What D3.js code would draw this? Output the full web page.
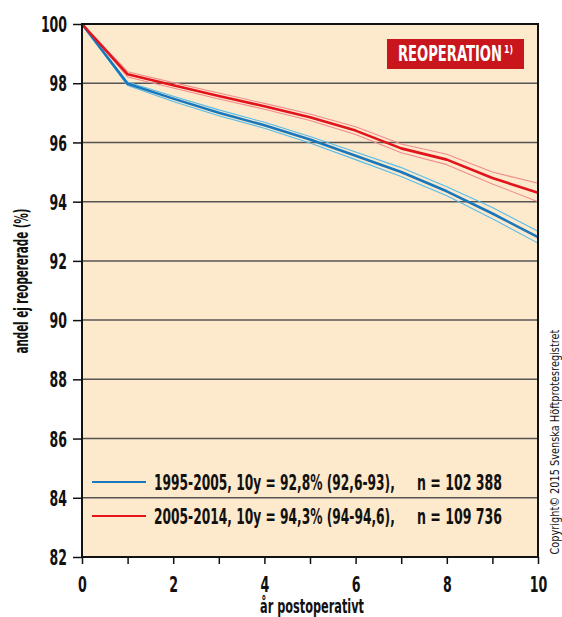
<!DOCTYPE html>
<html><head><meta charset="utf-8">
<script src="https://cdn.jsdelivr.net/npm/d3@7"></script>
<style>
body{margin:0;background:#fff;}
svg text{font-family:"DejaVu Sans Condensed","DejaVu Sans",sans-serif;font-stretch:condensed;font-weight:bold;fill:#111;}
</style></head>
<body><svg id="c" width="562" height="617"></svg>
<script>
const years = [0,1,2,3,4,5,6,7,8,9,10];
const blue   = [100, 97.98, 97.48, 97.0, 96.58, 96.1, 95.55, 95.0, 94.35, 93.6, 92.8];
const blueLo = [100, 97.92, 97.38, 96.9, 96.48, 95.98, 95.42, 94.85, 94.2, 93.42, 92.6];
const blueHi = [100, 98.04, 97.56, 97.1, 96.68, 96.2, 95.68, 95.15, 94.5, 93.8, 93.0];
const red    = [100, 98.3, 97.93, 97.57, 97.22, 96.85, 96.4, 95.8, 95.42, 94.8, 94.3];
const redLo  = [100, 98.21, 97.84, 97.47, 97.12, 96.74, 96.27, 95.65, 95.25, 94.6, 94.0];
const redHi  = [100, 98.39, 98.02, 97.67, 97.32, 96.96, 96.53, 95.95, 95.6, 95.0, 94.62];
const yTicks = [82,84,86,88,90,92,94,96,98,100];
const xLabels = [0,2,4,6,8,10];
const legendLabels = ["1995-2005, 10y = 92,8% (92,6-93),", "2005-2014, 10y = 94,3% (94-94,6),"];
const legendN = ["n = 102 388", "n = 109 736"];

const svg = d3.select("#c");
const L=82, R=538, T=24, B=557;
const x = d3.scaleLinear().domain([0,10]).range([L,R]);
const y = d3.scaleLinear().domain([82,100]).range([B,T]);

// place text at (px,py), squeezed horizontally to a target width, optional rotation
function fitText(str, px, py, width, size, opts={}) {
  const g = svg.append("g");
  const t = g.append("text").style("font-size", size+"px").text(str);
  if (opts.weight) t.style("font-weight", opts.weight);
  if (opts.fill) t.style("fill", opts.fill);
  if (opts.dy) t.attr("dy", opts.dy);
  const w = t.node().getComputedTextLength();
  const sx = width / w;
  let ox = 0;
  if (opts.anchor === "middle") ox = -width/2;
  t.attr("x", ox / sx);
  g.attr("transform", `translate(${px},${py})` + (opts.rotate ? ` rotate(${opts.rotate})` : "") + ` scale(${sx},1)`);
  return g;
}

svg.append("rect").attr("x",L).attr("y",T).attr("width",R-L).attr("height",B-T).attr("fill","#fde9cb");

// gridlines
svg.append("g").selectAll("line").data(yTicks.filter(d=>d>82&&d<100)).join("line")
  .attr("x1",L).attr("x2",R).attr("y1",d=>y(d)).attr("y2",d=>y(d))
  .attr("stroke","#555").attr("stroke-width",1.5);

// lines
const line = d3.line().x((d,i)=>x(years[i])).y(d=>y(d));
const series = [
  [blueLo,"#56bde9",1.1],[blueHi,"#56bde9",1.1],
  [redLo,"#f08c8e",1.1],[redHi,"#f08c8e",1.1],
  [blue,"#1877bd",2.6],[red,"#e3131b",2.6]
];
series.forEach(([d,c,w])=>{
  svg.append("path").datum(d).attr("d",line).attr("fill","none")
    .attr("stroke",c).attr("stroke-width",w).attr("stroke-linejoin","round");
});

// frame
svg.append("rect").attr("x",L).attr("y",T).attr("width",R-L).attr("height",B-T)
  .attr("fill","none").attr("stroke","#111").attr("stroke-width",2);

// y axis
const ya = svg.append("g").attr("transform",`translate(${L},0)`)
  .call(d3.axisLeft(y).tickValues(yTicks).tickSize(9).tickPadding(6).tickFormat(d3.format("d")));
ya.select(".domain").remove();
ya.selectAll("line").attr("stroke","#111").attr("stroke-width",1.5);
ya.selectAll("text").style("font-size","21px").attr("dy","0.36em")
  .attr("textLength",function(){return this.textContent.length*8.7;})
  .attr("lengthAdjust","spacingAndGlyphs");

// x axis
const xa = svg.append("g").attr("transform",`translate(0,${B})`)
  .call(d3.axisBottom(x).tickValues(years).tickSize(7).tickPadding(6)
    .tickFormat(d=>xLabels.includes(d)?d:""));
xa.select(".domain").remove();
xa.selectAll("line").attr("stroke","#111").attr("stroke-width",1.5);
xa.selectAll("text").style("font-size","21px").attr("dy","1.05em")
  .attr("textLength",function(){return this.textContent.length*8.8;})
  .attr("lengthAdjust","spacingAndGlyphs");

// axis titles
fitText("andel ej reopererade (%)", 28, 281, 145, 19, {anchor:"middle", rotate:-90});
fitText("år postoperativt", 312, 613, 104, 19, {anchor:"middle"});

// copyright
fitText("Copyright© 2015 Svenska Höftprotesregistret", 559, 442, 225, 12, {anchor:"middle", rotate:-90, weight:"normal"});

// legend
const legColors = ["#1877bd","#e3131b"];
legendLabels.forEach((t,i)=>{
  const ly = 482 + i*34;
  svg.append("line").attr("x1",92).attr("x2",146).attr("y1",ly).attr("y2",ly)
    .attr("stroke",legColors[i]).attr("stroke-width",2);
  fitText(t, 154, ly, 241, 21, {dy:"0.36em"});
  fitText(legendN[i], 417, ly, 85, 21, {dy:"0.36em"});
});

// reoperation box
svg.append("rect").attr("x",387).attr("y",39).attr("width",137).attr("height",30).attr("fill","#c8161c");
fitText("REOPERATION", 398, 61, 104, 21, {fill:"#fff"});
fitText("1)", 504, 53, 9, 10, {fill:"#fff"});
</script></body></html>
